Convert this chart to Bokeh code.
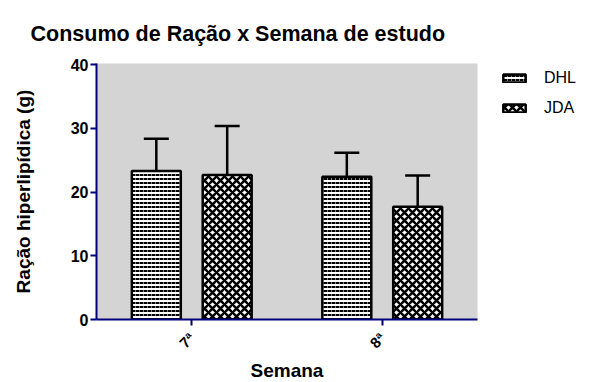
from bokeh.embed import file_html
from bokeh.models import (ColumnDataSource, FactorRange, Legend, LegendItem,
                          TeeHead, Whisker)
from bokeh.plotting import figure
from bokeh.resources import INLINE
from bokeh.transform import dodge

# ---- data -------------------------------------------------------------
weeks = ["7ª", "8ª"]
series = ["DHL", "JDA"]
dhl_mean = [23.3, 22.4]
dhl_sd = [5.1, 3.8]
jda_mean = [22.7, 17.7]
jda_sd = [7.7, 4.9]
y_ticks = [0, 10, 20, 30, 40]

src = ColumnDataSource(dict(
    week=weeks,
    dhl=dhl_mean,
    dhl_top=[m + s for m, s in zip(dhl_mean, dhl_sd)],
    jda=jda_mean,
    jda_top=[m + s for m, s in zip(jda_mean, jda_sd)],
))

NAVY = "#00007a"
FONT = "Liberation Sans"

p = figure(
    frame_width=381, frame_height=256,
    x_range=FactorRange(*weeks), y_range=(0, 40.2),
    output_backend="svg", toolbar_location=None,
    min_border_left=96, min_border_right=112,
    min_border_top=63, min_border_bottom=63,
    title="Consumo de Ração x Semana de estudo",
)
p.background_fill_color = "#d4d4d4"
p.border_fill_color = "white"
p.outline_line_color = None
p.grid.visible = False

p.title.text_font = FONT
p.title.text_font_size = "21.5px"
p.title.text_font_style = "bold"
p.title.text_color = "black"
p.title.align = "left"
p.title.offset = -66
p.title.standoff = 36

BAR_W = 0.257
OFF = 0.186

# DHL: fine dashed texture, JDA: coarse chequered (diagonal cross) texture
r_dhl = p.vbar(x=dodge("week", -OFF, range=p.x_range), top="dhl", width=BAR_W,
               source=src, fill_color="white", line_color="black", line_width=2.5,
               hatch_pattern="horizontal_dash", hatch_color="black", hatch_scale=4,
               hatch_weight=2, hatch_alpha=1)
r_jda = p.vbar(x=dodge("week", OFF, range=p.x_range), top="jda", width=BAR_W,
               source=src, fill_color="white", line_color="black", line_width=2.5,
               hatch_pattern="diagonal_cross", hatch_color="black", hatch_scale=8,
               hatch_weight=2.5, hatch_alpha=1)

# upper error bars (mean + SD)
for col, off in (("dhl", -OFF), ("jda", OFF)):
    w = Whisker(source=src, base=dodge("week", off, range=p.x_range),
                lower=col, upper=col + "_top",
                line_color="black", line_width=2.5,
                upper_head=TeeHead(size=25, line_color="black", line_width=2.5),
                lower_head=None)
    p.add_layout(w)

legend = Legend(items=[LegendItem(label=series[0], renderers=[r_dhl]),
                       LegendItem(label=series[1], renderers=[r_jda])],
                border_line_color=None, background_fill_alpha=0,
                glyph_width=28, glyph_height=10, spacing=12,
                label_text_font=FONT, label_text_font_size="16px",
                label_text_color="black",
                label_standoff=16, location=(23, 202),
                margin=0, padding=6)
p.add_layout(legend, "right")

# axes
for ax in (p.xaxis, p.yaxis):
    ax.axis_line_color = NAVY
    ax.axis_line_width = 2
    ax.major_tick_line_color = NAVY
    ax.major_tick_line_width = 2
    ax.minor_tick_line_color = None
    ax.major_tick_in = 0
    ax.major_tick_out = 6
    ax.major_label_text_font = FONT
    ax.major_label_text_font_style = "bold"
    ax.major_label_text_font_size = "16px"
    ax.major_label_text_color = "black"
    ax.axis_label_text_font = FONT
    ax.axis_label_text_font_style = "bold"
    ax.axis_label_text_font_size = "19px"
    ax.axis_label_text_color = "black"

p.yaxis.ticker = y_ticks
p.yaxis.axis_label = "Ração hiperlipídica (g)"
p.yaxis.major_label_standoff = 2
p.yaxis.axis_label_standoff = 34
p.xaxis.axis_label = "Semana"
p.xaxis.major_label_orientation = 0.785
p.xaxis.major_label_standoff = 10
p.xaxis.axis_label_standoff = 0
p.xaxis.major_label_text_font_size = "15px"

open("out.html", "w").write(file_html(p, INLINE))
